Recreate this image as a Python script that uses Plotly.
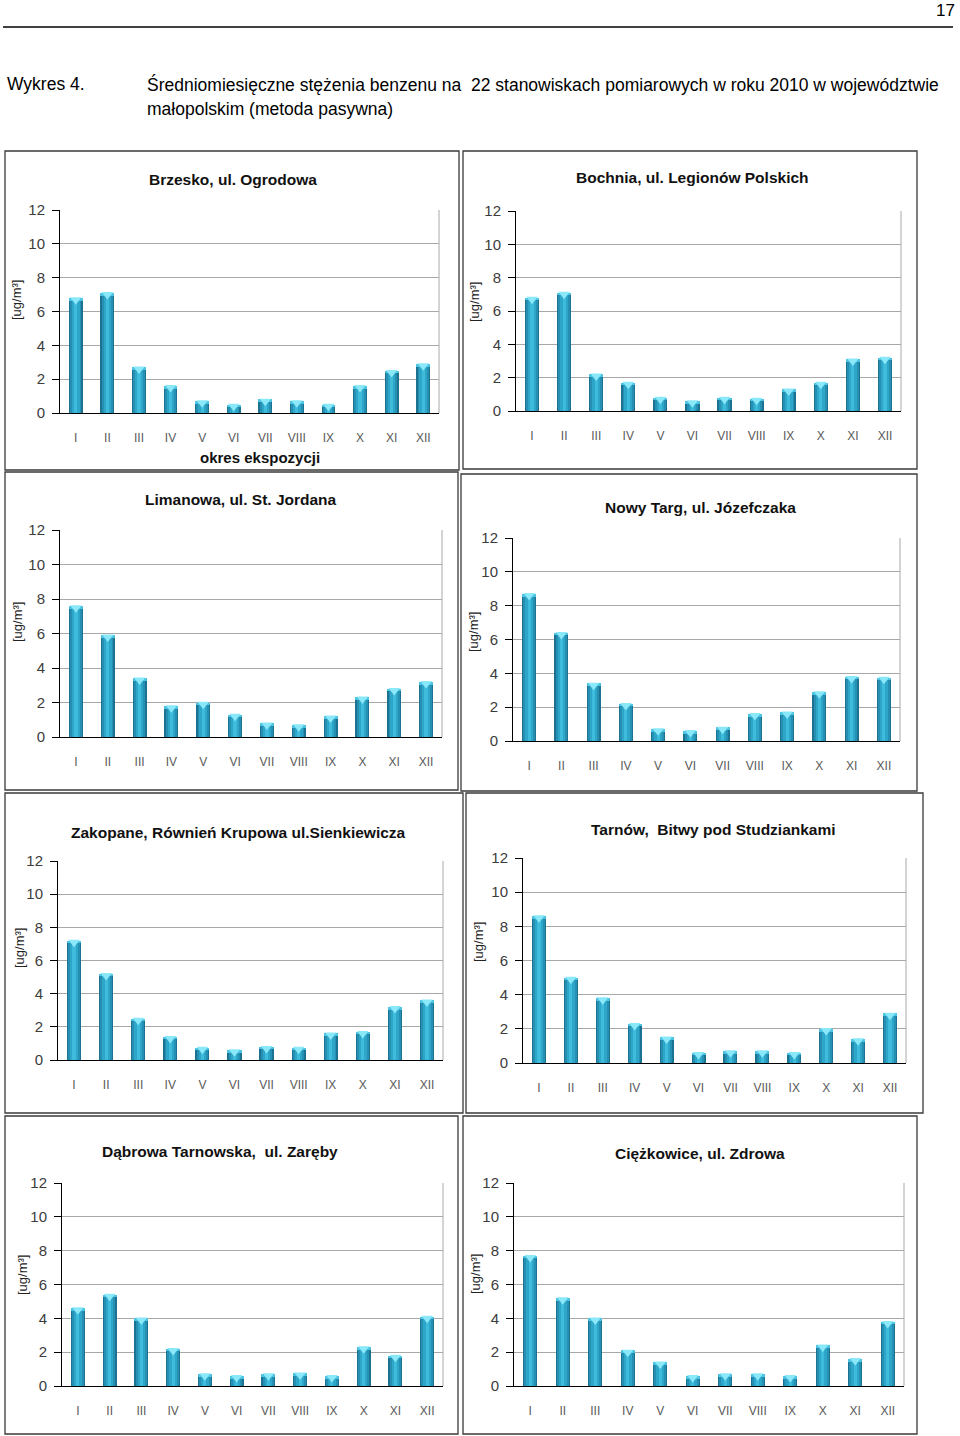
import plotly.graph_objects as go

# ---------------- data ----------------
months = ["I", "II", "III", "IV", "V", "VI", "VII", "VIII", "IX", "X", "XI", "XII"]

titles = [
    "Brzesko, ul. Ogrodowa",
    "Bochnia, ul. Legionów Polskich",
    "Limanowa, ul. St. Jordana",
    "Nowy Targ, ul. Józefczaka",
    "Zakopane, Równień Krupowa ul.Sienkiewicza",
    "Tarnów,  Bitwy pod Studziankami",
    "Dąbrowa Tarnowska,  ul. Zaręby",
    "Ciężkowice, ul. Zdrowa",
]

brzesko    = [6.8, 7.1, 2.7, 1.6, 0.7, 0.5, 0.8, 0.7, 0.5, 1.6, 2.5, 2.9]
bochnia    = [6.8, 7.1, 2.2, 1.7, 0.8, 0.6, 0.8, 0.75, 1.3, 1.7, 3.1, 3.2]
limanowa   = [7.6, 5.9, 3.4, 1.8, 2.0, 1.3, 0.8, 0.7, 1.2, 2.3, 2.8, 3.2]
nowy_targ  = [8.7, 6.4, 3.4, 2.2, 0.7, 0.6, 0.8, 1.6, 1.7, 2.9, 3.8, 3.75]
zakopane   = [7.2, 5.2, 2.5, 1.4, 0.75, 0.6, 0.8, 0.75, 1.6, 1.7, 3.2, 3.6]
tarnow     = [8.6, 5.0, 3.8, 2.3, 1.5, 0.6, 0.7, 0.7, 0.6, 2.0, 1.4, 2.9]
dabrowa    = [4.6, 5.4, 4.0, 2.2, 0.7, 0.6, 0.7, 0.75, 0.6, 2.3, 1.8, 4.1]
ciezkowice = [7.7, 5.2, 4.0, 2.1, 1.4, 0.6, 0.7, 0.7, 0.6, 2.4, 1.6, 3.8]

series = [brzesko, bochnia, limanowa, nowy_targ, zakopane, tarnow, dabrowa, ciezkowice]

y_label = "[ug/m³]"
x_label = "okres ekspozycji"

# ---------------- geometry (pixels) ----------------
W, H = 960, 1436
# plot area x0, x1, ytop, ybottom ; box bx0, by0, bx1, by1 ; title cx, cy ; ylabel x, y
geom = [
    dict(p=(60, 439, 210, 413), b=(5, 151, 459, 470), t=(233, 179), yl=(17, 300)),
    dict(p=(516, 901, 211, 411), b=(463, 151, 917, 469), t=(692, 177), yl=(475, 302)),
    dict(p=(60, 442, 530, 737), b=(5, 472, 458, 790), t=(241, 499), yl=(17, 622)),
    dict(p=(513, 900, 538, 741), b=(461, 474, 917, 791), t=(700, 507), yl=(473, 632)),
    dict(p=(58, 443, 861, 1060), b=(5, 793, 463, 1113), t=(238, 832), yl=(19, 948)),
    dict(p=(523, 906, 858, 1063), b=(466, 793, 923, 1113), t=(713, 829), yl=(478, 942)),
    dict(p=(62, 443, 1183, 1386), b=(5, 1116, 458, 1434), t=(220, 1151), yl=(22, 1275)),
    dict(p=(514, 904, 1183, 1386), b=(463, 1116, 917, 1434), t=(700, 1153), yl=(475, 1274)),
]


def fx(x):
    return x / W


def fy(y):
    return 1 - y / H


FONT = "Liberation Sans, Arial, sans-serif"

fig = go.Figure()
shapes = []
annotations = []
layout_axes = {}

bar_layers = [(0.44, "#1c7290"), (0.36, "#2590b2"), (0.24, "#2ea6ca"), (0.10, "#3fbbdb")]

for i, (title, vals, g) in enumerate(zip(titles, series, geom)):
    n = i + 1
    xa = "x" if n == 1 else f"x{n}"
    ya = "y" if n == 1 else f"y{n}"
    for wdt, col in bar_layers:
        fig.add_trace(go.Bar(
            x=months, y=vals, width=wdt, marker=dict(color=col, line_width=0),
            xaxis=xa, yaxis=ya, showlegend=False, hoverinfo="skip"))
    # light cap at top of each bar
    cap = [min(0.16, v) for v in vals]
    fig.add_trace(go.Bar(
        x=months, y=cap, base=[v - c for v, c in zip(vals, cap)], width=0.44,
        marker=dict(color="#4cc4e2", line_width=0),
        xaxis=xa, yaxis=ya, showlegend=False, hoverinfo="skip"))
    fig.add_trace(go.Scatter(
        x=months, y=[v - 0.1 for v in vals], mode="markers",
        marker=dict(symbol="triangle-down", size=10, color="#8ae8f9", line_width=0),
        xaxis=xa, yaxis=ya, showlegend=False, hoverinfo="skip"))

    x0, x1, yt, yb = g["p"]
    layout_axes["xaxis" if n == 1 else f"xaxis{n}"] = dict(
        domain=[fx(x0), fx(x1)], anchor=ya, type="category", range=[-0.5, 11.5],
        showline=True, linecolor="#000000", linewidth=1, ticks="", showgrid=False,
        zeroline=False, tickfont=dict(family=FONT, size=12, color="#5a5a5a"),
        ticklabelstandoff=14, fixedrange=True, automargin=False)
    layout_axes["yaxis" if n == 1 else f"yaxis{n}"] = dict(
        domain=[fy(yb), fy(yt)], anchor=xa, range=[0, 12], tick0=0, dtick=2,
        showline=True, linecolor="#000000", linewidth=1, ticks="outside", ticklen=7,
        tickcolor="#000000", showgrid=True, gridcolor="#a8a8a8", gridwidth=1,
        zeroline=False, tickfont=dict(family=FONT, size=15, color="#3c3c3c"),
        ticklabelstandoff=4, fixedrange=True, automargin=False)

    # right border of plot area
    shapes.append(dict(type="line", xref=f"{xa} domain", yref=f"{ya} domain",
                       x0=1, x1=1, y0=0, y1=1, line=dict(color="#a8a8a8", width=1)))
    # panel box
    bx0, by0, bx1, by1 = g["b"]
    shapes.append(dict(type="rect", xref="paper", yref="paper",
                       x0=fx(bx0), x1=fx(bx1), y0=fy(by1), y1=fy(by0),
                       line=dict(color="#3a3a3a", width=1.3)))
    # title
    tx, ty = g["t"]
    annotations.append(dict(text=f"<b>{title}</b>", xref="paper", yref="paper",
                            x=fx(tx), y=fy(ty), xanchor="center", yanchor="middle",
                            showarrow=False, font=dict(family=FONT, size=15.5, color="#111111")))
    # y label
    lx, ly = g["yl"]
    annotations.append(dict(text=y_label, xref="paper", yref="paper", textangle=-90,
                            x=fx(lx), y=fy(ly), xanchor="center", yanchor="middle",
                            showarrow=False, font=dict(family=FONT, size=13, color="#222222")))

# x axis label on first panel
annotations.append(dict(text=f"<b>{x_label}</b>", xref="paper", yref="paper",
                        x=fx(260), y=fy(457), xanchor="center", yanchor="middle",
                        showarrow=False, font=dict(family=FONT, size=15, color="#111111")))

# page header
shapes.append(dict(type="line", xref="paper", yref="paper", x0=fx(3), x1=fx(953),
                   y0=fy(27), y1=fy(27), line=dict(color="#000000", width=1.5)))
annotations.append(dict(text="17", xref="paper", yref="paper", x=fx(957), y=fy(10),
                        xanchor="right", yanchor="middle", showarrow=False,
                        font=dict(family=FONT, size=17, color="#000000")))
annotations.append(dict(text="Wykres 4.", xref="paper", yref="paper", x=fx(5), y=fy(84),
                        xanchor="left", yanchor="middle", showarrow=False,
                        font=dict(family=FONT, size=17.5, color="#000000")))
annotations.append(dict(text="Średniomiesięczne stężenia benzenu na\u00a0 22 stanowiskach pomiarowych w roku 2010 w województwie",
                        xref="paper", yref="paper", x=fx(145), y=fy(84),
                        xanchor="left", yanchor="middle", showarrow=False,
                        font=dict(family=FONT, size=17.5, color="#000000")))
annotations.append(dict(text="małopolskim (metoda pasywna)", xref="paper", yref="paper",
                        x=fx(145), y=fy(109), xanchor="left", yanchor="middle",
                        showarrow=False, font=dict(family=FONT, size=17.5, color="#000000")))

fig.update_layout(
    width=W, height=H, margin=dict(l=0, r=0, t=0, b=0, pad=0, autoexpand=False),
    paper_bgcolor="white", plot_bgcolor="white", barmode="overlay", bargap=0,
    shapes=shapes, annotations=annotations, showlegend=False,
    **layout_axes,
)

post = (
    "document.documentElement.style.margin='0';"
    "document.body.style.margin='0';"
    "document.body.style.overflow='hidden';"
)

fig.write_html("out.html", config={"displayModeBar": False}, post_script=post)
